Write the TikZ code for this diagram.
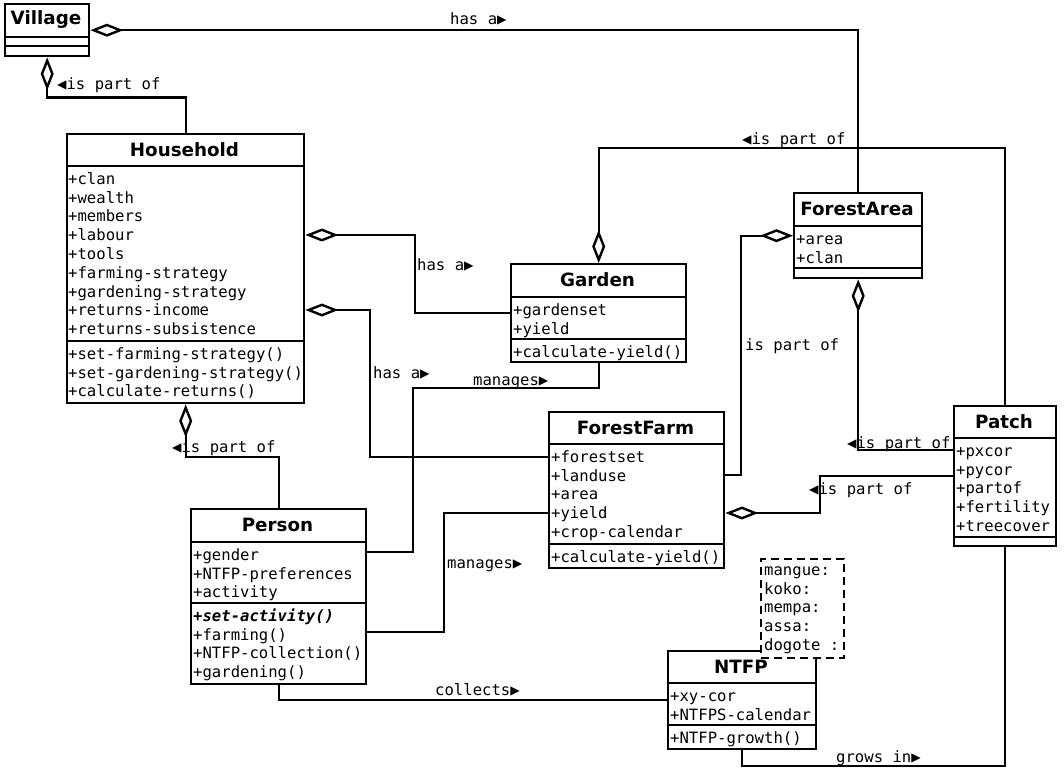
\documentclass[tikz,border=0pt]{standalone}
\usepackage{fontspec}
\setmonofont{DejaVu Sans Mono}
\newfontfamily\dejasans{DejaVu Sans}
\usetikzlibrary{arrows.meta}
\newcommand\monofnt{\ttfamily\fontsize{15.6}{18.8}\selectfont}
\newcommand\titlefnt{\dejasans\bfseries\fontsize{18.3}{21}\selectfont}
\newcommand\fl{\rule{0pt}{14pt}}
\begin{document}
\begin{tikzpicture}[x=1pt,y=-1pt,
  cls/.style={draw, line width=2.4pt, fill=white, inner sep=0pt, anchor=north west},
  sepline/.style={line width=2.4pt},
  ttl/.style={font=\titlefnt, inner sep=0pt},
  txt/.style={font=\monofnt, anchor=north west, inner sep=0pt, align=left},
  rel/.style={line width=2.4pt},
  agg/.style={rel, {Diamond[fill=white,length=33pt,width=13pt]}-},
  lbl/.style={font=\monofnt, inner sep=0pt, anchor=base west},
  notebox/.style={draw, line width=2.4pt, dash pattern=on 8pt off 5pt, fill=white, inner sep=0pt, anchor=north west}]
\useasboundingbox[fill=white] (0,0) rectangle (1064,773);

% ---------- classes ----------
% Village
\node[cls, minimum width=84pt, minimum height=52pt] (village) at (4,3) {};
\draw[sepline] (village.west |- 0,37) -- (village.east |- 0,37);
\draw[sepline] (village.west |- 0,46) -- (village.east |- 0,46);
\node[ttl] (village-t) at (46,20) {Village};

% Household
\node[cls, minimum width=237pt, minimum height=269pt] (household) at (66,133) {};
\draw[sepline] (household.west |- 0,166) -- (household.east |- 0,166);
\draw[sepline] (household.west |- 0,341) -- (household.east |- 0,341);
\node[ttl] (household-t) at (184.5,149.5) {Household};
\node[txt] (household-a) at (68,170) {\fl+clan\\+wealth\\+members\\+labour\\+tools\\+farming-strategy\\+gardening-strategy\\+returns-income\\+returns-subsistence};
\node[txt] (household-m) at (68,345) {\fl+set-farming-strategy()\\+set-gardening-strategy()\\+calculate-returns()};

% Garden
\node[cls, minimum width=175pt, minimum height=98pt] (garden) at (510,263) {};
\draw[sepline] (garden.west |- 0,297) -- (garden.east |- 0,297);
\draw[sepline] (garden.west |- 0,339) -- (garden.east |- 0,339);
\node[ttl] (garden-t) at (597.5,280) {Garden};
\node[txt] (garden-a) at (513,301) {\fl+gardenset\\+yield};
\node[txt] (garden-m) at (513,343) {\fl+calculate-yield()};

% ForestArea
\node[cls, minimum width=128pt, minimum height=85pt] (forestarea) at (793,192) {};
\draw[sepline] (forestarea.west |- 0,226) -- (forestarea.east |- 0,226);
\draw[sepline] (forestarea.west |- 0,268) -- (forestarea.east |- 0,268);
\node[ttl] (forestarea-t) at (857,209) {ForestArea};
\node[txt] (forestarea-a) at (796,230) {\fl+area\\+clan};

% ForestFarm
\node[cls, minimum width=175pt, minimum height=156pt] (forestfarm) at (548,411) {};
\draw[sepline] (forestfarm.west |- 0,444) -- (forestfarm.east |- 0,444);
\draw[sepline] (forestfarm.west |- 0,544) -- (forestfarm.east |- 0,544);
\node[ttl] (forestfarm-t) at (635.5,427.5) {ForestFarm};
\node[txt] (forestfarm-a) at (551,448) {\fl+forestset\\+landuse\\+area\\+yield\\+crop-calendar};
\node[txt] (forestfarm-m) at (551,548) {\fl+calculate-yield()};

% Person
\node[cls, minimum width=175pt, minimum height=175pt] (person) at (190,508) {};
\draw[sepline] (person.west |- 0,542) -- (person.east |- 0,542);
\draw[sepline] (person.west |- 0,603) -- (person.east |- 0,603);
\node[ttl] (person-t) at (277.5,525) {Person};
\node[txt] (person-a) at (193,546) {\fl+gender\\+NTFP-preferences\\+activity};
\node[txt] (person-m) at (193,607) {\fl\textbf{\textit{+set-activity()}}\\+farming()\\+NTFP-collection()\\+gardening()};

% Patch
\node[cls, minimum width=102pt, minimum height=140pt] (patch) at (953,405) {};
\draw[sepline] (patch.west |- 0,438) -- (patch.east |- 0,438);
\draw[sepline] (patch.west |- 0,537) -- (patch.east |- 0,537);
\node[ttl] (patch-t) at (1004,421.5) {Patch};
\node[txt] (patch-a) at (956,442) {\fl+pxcor\\+pycor\\+partof\\+fertility\\+treecover};

% NTFP
\node[cls, minimum width=148pt, minimum height=98pt] (ntfp) at (667,650) {};
\draw[sepline] (ntfp.west |- 0,683) -- (ntfp.east |- 0,683);
\draw[sepline] (ntfp.west |- 0,725) -- (ntfp.east |- 0,725);
\node[txt] (ntfp-a) at (670,687) {\fl+xy-cor\\+NTFPS-calendar};
\node[txt] (ntfp-m) at (670,729) {\fl+NTFP-growth()};

% note
\node[notebox, minimum width=83pt, minimum height=99pt] (note) at (760,558) {};
\node[txt] (note-t) at (764,561) {\fl mangue:\\koko:\\mempa:\\assa:\\dogote :};
\node[ttl] (ntfp-t) at (741,666.5) {NTFP};

% ---------- connectors ----------
\draw[agg] (village.east) -| (forestarea.north);
\node[lbl] (l1) at (450,25) {has a▶};

\draw[agg] (village.south) -- ++(0,40) -| (household.north);
\node[lbl] (l2) at (57,90) {◀is part of};

\draw[agg] (household.east |- 0,235) -| (415,313) -- (garden.west |- 0,313);
\node[lbl] (l3) at (417,270) {has a▶};

\draw[agg] (household.east |- 0,310) -| (370,457) -- (forestfarm.west |- 0,457);
\node[lbl] (l4) at (373,378) {has a▶};

\draw[agg] (household.south) |- (person.north |- 0,457) -- (person.north);
\node[lbl] (l5) at (172,452) {◀is part of};

\draw[agg] (garden.north) |- (patch.north |- 0,148) -- (patch.north);
\node[lbl] (l6) at (742,144) {◀is part of};

\draw[rel] (person.east |- 0,552) -| (413,388) -| (garden.south);
\node[lbl] (l7) at (473,385) {manages▶};

\draw[rel] (person.east |- 0,632) -| (444,513) -- (forestfarm.west |- 0,513);
\node[lbl] (l8) at (447,568) {manages▶};

\draw[agg] (forestarea.west) -| (741,475) -- (forestfarm.east |- 0,475);
\node[lbl] (l9) at (745,350) {is part of};

\draw[agg] (forestarea.south) |- (patch.west |- 0,450);
\node[lbl] (l10) at (847,448) {◀is part of};

\draw[agg] (forestfarm.east |- 0,513) -| (820,476) -- (patch.west |- 0,476);
\node[lbl] (l11) at (809,494) {◀is part of};

\draw[rel] (person.south) |- (ntfp.west);
\node[lbl] (l12) at (435,695) {collects▶};

\draw[rel] (ntfp.south) |- (patch.south |- 0,766) -- (patch.south);
\node[lbl] (l13) at (836,762) {grows in▶};
\end{tikzpicture}
\end{document}
